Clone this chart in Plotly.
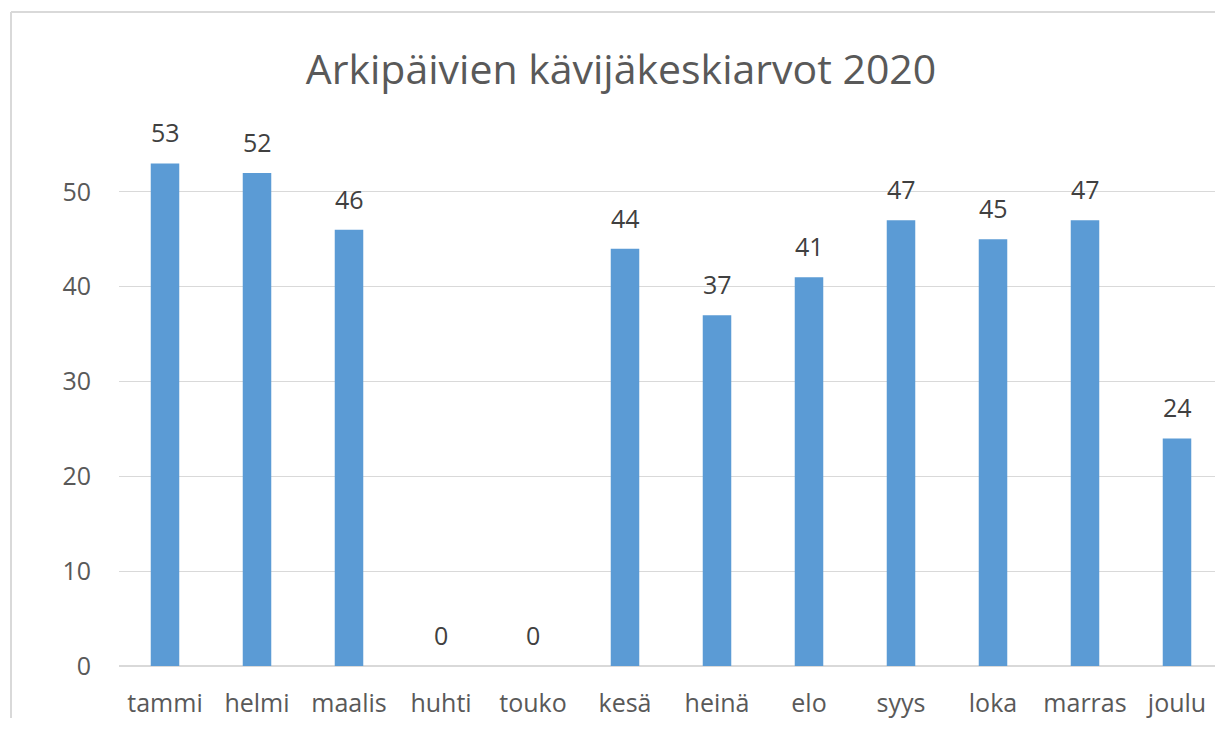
import plotly.graph_objects as go

months = ["tammi", "helmi", "maalis", "huhti", "touko", "kesä", "heinä", "elo", "syys", "loka", "marras", "joulu"]
values = [53, 52, 46, 0, 0, 44, 37, 41, 47, 45, 47, 24]
title_text = "Arkipäivien kävijäkeskiarvot 2020"
y_ticks = [0, 10, 20, 30, 40, 50]

FONT = "Open Sans"
OFF = 8  # page (body) margin around the figure inside the browser window
W, H = 1223 - 2 * OFF, 729 - 2 * OFF - 3  # figure fits the window without scrollbars

fig = go.Figure()
fig.add_trace(go.Bar(
    x=months, y=values,
    marker=dict(color="#5b9bd5", line=dict(width=0)),
    hoverinfo="x+y",
))

annotations = []
for m, v in zip(months, values):
    annotations.append(dict(
        x=m, y=v, xref="x", yref="y", text=str(v), showarrow=False,
        yshift=31, font=dict(family=FONT, size=25, color="#404040"),
    ))

# plot area in window pixels -> figure pixels
L, R, T, B = 119 - OFF, W, 135 - OFF, 666 - OFF
CAT_PX = 92.0  # category spacing of the reference
x_hi = -0.5 + (R - L) / CAT_PX

def px_x(p):
    return (p - OFF - L) / (R - L)

def px_y(p):
    return (B - (p - OFF)) / (B - T)

fig.update_layout(
    width=W, height=H,
    margin=dict(l=L, r=W - R, t=T, b=H - B, pad=0),
    paper_bgcolor="white", plot_bgcolor="white",
    title=dict(text=title_text, x=(621 - OFF) / W, xanchor="center",
               y=1 - (70 - OFF) / H, yanchor="middle",
               font=dict(family=FONT, size=41, color="#595959")),
    bargap=0.69,
    showlegend=False,
    xaxis=dict(
        range=[-0.5, x_hi],
        showgrid=False, showline=False, ticks="", ticklabelstandoff=20,
        tickfont=dict(family=FONT, size=25, color="#595959"),
    ),
    yaxis=dict(
        range=[0, 56], tickvals=y_ticks, showgrid=True, gridcolor="#d9d9d9", gridwidth=1,
        zeroline=True, zerolinecolor="#d9d9d9", zerolinewidth=1.5,
        showline=False, ticks="", ticklabelstandoff=27,
        tickfont=dict(family=FONT, size=25, color="#595959"),
    ),
    annotations=annotations,
    shapes=[dict(type="line", xref="paper", yref="paper",
                 x0=px_x(11), x1=px_x(11), y0=px_y(760), y1=px_y(12),
                 line=dict(color="#d9d9d9", width=2), layer="below"),
            dict(type="line", xref="paper", yref="paper",
                 x0=px_x(11), x1=px_x(1260), y0=px_y(12), y1=px_y(12),
                 line=dict(color="#d9d9d9", width=2), layer="below")],
)

fig.write_html("out.html")
